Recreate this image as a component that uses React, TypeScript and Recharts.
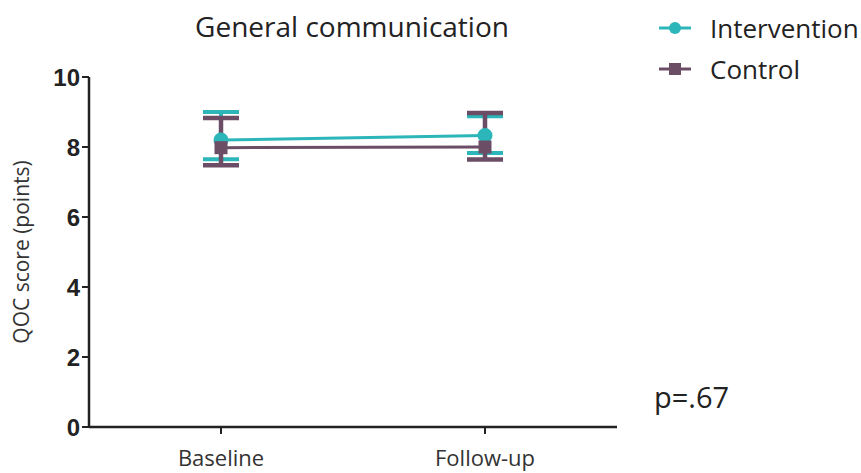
import { LineChart, Line, XAxis, YAxis, ErrorBar } from "recharts";

const TEAL = "#2cb6b9";
const PLUM = "#6b4e66";

const timepoints = ["Baseline", "Follow-up"];
const interventionMean = [8.2, 8.33];
const interventionErr = [[0.55, 0.8], [0.5, 0.55]];
const controlMean = [7.98, 8.0];
const controlErr = [[0.5, 0.85], [0.36, 0.97]];
const yTicks = [0, 2, 4, 6, 8, 10];

const data = timepoints.map((t, i) => ({
  time: t,
  intervention: interventionMean[i],
  intErr: interventionErr[i],
  control: controlMean[i],
  ctlErr: controlErr[i],
}));

const FONT = "'Open Sans', sans-serif";

const SquareDot = (props: any) => {
  const { cx, cy } = props;
  if (cx == null || cy == null) return null;
  return <rect x={cx - 6.5} y={cy - 6.5} width={13} height={13} fill={PLUM} />;
};

const legendItems = [
  { name: "Intervention", color: TEAL, shape: "circle" },
  { name: "Control", color: PLUM, shape: "square" },
];

export default function App() {
  return (
    <div style={{ position: "absolute", left: 0, top: 0, width: 861, height: 473, background: "#fff" }}>
      <div
        style={{
          position: "absolute",
          left: 0,
          width: 704,
          top: 7,
          textAlign: "center",
          fontFamily: FONT,
          fontSize: 28,
          lineHeight: "38px",
          color: "#222",
        }}
      >
        General communication
      </div>
      <div style={{ position: "absolute", left: 657, top: 7, fontFamily: FONT, fontSize: 26, color: "#222" }}>
        {legendItems.map((it) => (
          <div key={it.name} style={{ display: "flex", alignItems: "center", height: 41 }}>
            <svg width={36} height={20} style={{ marginRight: 17 }}>
              <line x1={2} x2={34} y1={10} y2={10} stroke={it.color} strokeWidth={3} />
              {it.shape === "circle" ? (
                <circle cx={18} cy={10} r={6} fill={it.color} />
              ) : (
                <rect x={12} y={4} width={12} height={12} fill={it.color} />
              )}
            </svg>
            <span>{it.name}</span>
          </div>
        ))}
      </div>
      <div
        style={{
          position: "absolute",
          left: 654,
          top: 378,
          fontFamily: FONT,
          fontSize: 29,
          lineHeight: "38px",
          color: "#222",
        }}
      >
        p=.67
      </div>
      <LineChart width={861} height={473} data={data} margin={{ top: 77, right: 244, bottom: 6, left: 30 }}>
        <XAxis
          dataKey="time"
          height={40}
          padding={{ left: 132, right: 132 }}
          axisLine={{ stroke: "#222", strokeWidth: 2.5 }}
          tickLine={{ stroke: "#222", strokeWidth: 2 }}
          tickSize={7}
          tickMargin={16}
          tick={{ fill: "#333", fontSize: 22, fontFamily: FONT }}
        />
        <YAxis
          domain={[0, 10]}
          ticks={yTicks}
          width={59}
          axisLine={{ stroke: "#222", strokeWidth: 2.5 }}
          tickLine={{ stroke: "#222", strokeWidth: 2 }}
          tickSize={7}
          tickMargin={2}
          tick={{ fill: "#222", fontSize: 24, fontWeight: "bold", fontFamily: "'Liberation Sans', Arial, sans-serif" }}
          label={{
            value: "QOC score (points)",
            angle: -90,
            position: "insideLeft",
            offset: 0,
            dx: -8,
            style: { fill: "#333", fontSize: 21, fontFamily: FONT, textAnchor: "middle" },
          }}
        />
        <Line
          dataKey="intervention"
          name="Intervention"
          stroke={TEAL}
          strokeWidth={3}
          dot={{ r: 6, fill: TEAL, stroke: TEAL }}
          isAnimationActive={false}
        >
          <ErrorBar dataKey="intErr" width={18} stroke={TEAL} strokeWidth={4} direction="y" />
        </Line>
        <Line
          dataKey="control"
          name="Control"
          stroke={PLUM}
          strokeWidth={3}
          dot={<SquareDot />}
          isAnimationActive={false}
        >
          <ErrorBar dataKey="ctlErr" width={18} stroke={PLUM} strokeWidth={4.5} direction="y" />
        </Line>
      </LineChart>
    </div>
  );
}
